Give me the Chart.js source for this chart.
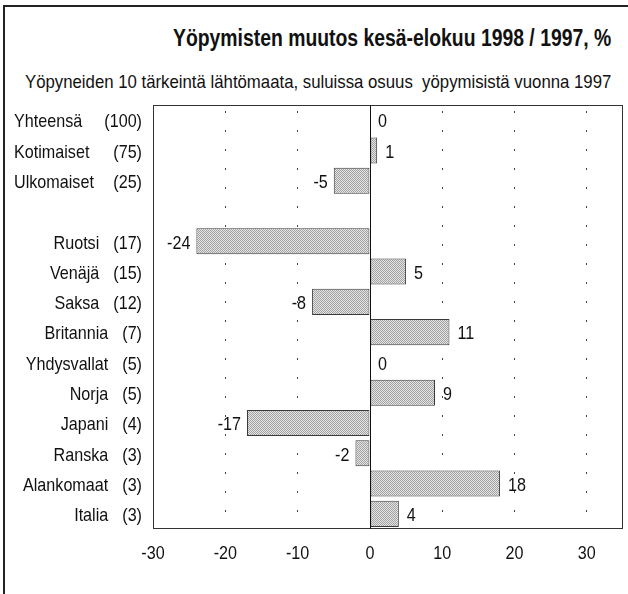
<!DOCTYPE html>
<html>
<head>
<meta charset="utf-8">
<script src="https://cdn.jsdelivr.net/npm/chart.js@4"></script>
<style>
    html, body { margin: 0; padding: 0; background: #fff; }
    #wrap { position: relative; width: 628px; height: 594px; overflow: hidden; }
    #frame { position: absolute; left: 3px; top: 5px; width: 700px; height: 700px;
             border-left: 2px solid #222; border-top: 2px solid #222; }
    #chartBox { position: absolute; left: 0; top: 0; width: 628px; height: 594px; }
    .txt { position: absolute; white-space: nowrap; color: #111; transform-origin: 0 0;
           font-family: 'Liberation Sans', Arial, sans-serif; }
    #title { left: 173px; top: 25px; font-size: 23px; font-weight: bold; }
    #subtitle { left: 25px; top: 71px; font-size: 19px; }
</style>
</head>
<body>
<div id="wrap">
    <div id="frame"></div>
    <div class="txt" id="title">Yöpymisten muutos kesä-elokuu 1998 / 1997, %</div>
    <div class="txt" id="subtitle">Yöpyneiden 10 tärkeintä lähtömaata, suluissa osuus &nbsp;yöpymisistä vuonna 1997</div>
    <div id="chartBox"><canvas id="chart"></canvas></div>
</div>
<script>
// data
const categories = ['Yhteensä', 'Kotimaiset', 'Ulkomaiset', '', 'Ruotsi', 'Venäjä', 'Saksa',
    'Britannia', 'Yhdysvallat', 'Norja', 'Japani', 'Ranska', 'Alankomaat', 'Italia'];
const shares1997 = [100, 75, 25, null, 17, 15, 12, 7, 5, 5, 4, 3, 3, 3];
const changes = [0, 1, -5, null, -24, 5, -8, 11, 0, 9, -17, -2, 18, 4];
const xTicks = [-30, -20, -10, 0, 10, 20, 30];
const totalRows = 3; // first group (totals) has its names left aligned

const FONT = "'Liberation Sans', Arial, sans-serif";
const NARROW = 0.85; // original uses a condensed face, squeeze the text

// squeeze the headings to the width they have in the original
function fitWidth(id, w) {
    const el = document.getElementById(id);
    el.style.transform = 'scaleX(' + (w / el.offsetWidth) + ')';
}
fitWidth('title', 438);
fitWidth('subtitle', 586);

function narrowText(ctx, text, x, y, align) {
    ctx.save();
    ctx.translate(x, y);
    ctx.scale(NARROW, 1);
    ctx.textAlign = align;
    ctx.fillText(text, 0, 0);
    ctx.restore();
}

// stippled grey fill like the printed original
function stipple() {
    const c = document.createElement('canvas');
    c.width = 2; c.height = 2;
    const g = c.getContext('2d');
    g.fillStyle = '#e4e4e4';
    g.fillRect(0, 0, 2, 2);
    g.fillStyle = '#a2a2a2';
    g.fillRect(0, 0, 1, 1);
    g.fillRect(1, 1, 1, 1);
    return g.createPattern(c, 'repeat');
}

// frame round the plot + solid zero line
const framePlugin = {
    id: 'frame',
    afterDatasetsDraw(chart) {
        const { ctx, chartArea: a } = chart;
        const x0 = chart.scales.x.getPixelForValue(0);
        ctx.save();
        ctx.strokeStyle = '#333';
        ctx.lineWidth = 1;
        ctx.strokeRect(a.left + 0.5, a.top + 0.5, a.right - a.left - 1, a.bottom - a.top - 1);
        ctx.strokeStyle = '#111';
        ctx.beginPath();
        ctx.moveTo(Math.round(x0) + 0.5, a.top);
        ctx.lineTo(Math.round(x0) + 0.5, a.bottom);
        ctx.stroke();
        ctx.restore();
    }
};

// category names + (share) columns, x tick labels and the value labels
const labelPlugin = {
    id: 'labels',
    afterDraw(chart) {
        const { ctx, chartArea: a } = chart;
        const yScale = chart.scales.y;
        const xScale = chart.scales.x;
        const shareRight = 142;
        ctx.save();
        ctx.fillStyle = '#111';
        ctx.font = '19px ' + FONT;
        ctx.textBaseline = 'middle';
        categories.forEach((name, i) => {
            if (!name) return;
            const y = yScale.getPixelForValue(i) + 2;
            const share = '(' + shares1997[i] + ')';
            narrowText(ctx, share, shareRight, y, 'right');
            if (i < totalRows) {
                narrowText(ctx, name, 14, y, 'left');
            } else {
                const sw = ctx.measureText(share).width * NARROW;
                narrowText(ctx, name, shareRight - sw - 14, y, 'right');
            }
        });

        xTicks.forEach(v => {
            narrowText(ctx, String(v), xScale.getPixelForValue(v), a.bottom + 25, 'center');
        });

        const meta = chart.getDatasetMeta(0);
        const zeroX = xScale.getPixelForValue(0);
        meta.data.forEach((bar, i) => {
            const v = changes[i];
            if (v === null || v === undefined) return;
            const y = bar.y + 2;
            if (v < 0) {
                narrowText(ctx, String(v), bar.x - 6, y, 'right');
            } else {
                narrowText(ctx, String(v), Math.max(bar.x, zeroX) + 8, y, 'left');
            }
        });
        ctx.restore();
    }
};

new Chart(document.getElementById('chart'), {
    type: 'bar',
    data: {
        labels: categories,
        datasets: [{
            data: changes,
            backgroundColor: stipple(),
            borderColor: '#3a3a3a',
            borderWidth: 1,
            borderSkipped: false,
            barPercentage: 0.86,
            categoryPercentage: 1
        }]
    },
    options: {
        indexAxis: 'y',
        responsive: true,
        maintainAspectRatio: false,
        animation: false,
        layout: { padding: { top: 105, right: 5, left: 0, bottom: 0 } },
        plugins: {
            legend: { display: false },
            tooltip: { enabled: false }
        },
        scales: {
            x: {
                type: 'linear',
                min: -30,
                max: 35,
                afterBuildTicks(scale) {
                    scale.ticks = xTicks.map(v => ({ value: v }));
                },
                afterFit(scale) { scale.height = 65; },
                grid: {
                    drawTicks: false,
                    lineWidth: 1,
                    color: ctx => (ctx.tick && (ctx.tick.value === 0 || ctx.tick.value === -30)) ? 'rgba(0,0,0,0)' : '#444'
                },
                border: { display: false, dash: [2, 17], dashOffset: -6 },
                ticks: { display: false }
            },
            y: {
                type: 'category',
                afterFit(scale) { scale.width = 153; },
                grid: { display: false },
                border: { display: false },
                ticks: { display: false }
            }
        }
    },
    plugins: [framePlugin, labelPlugin]
});
</script>
</body>
</html>
